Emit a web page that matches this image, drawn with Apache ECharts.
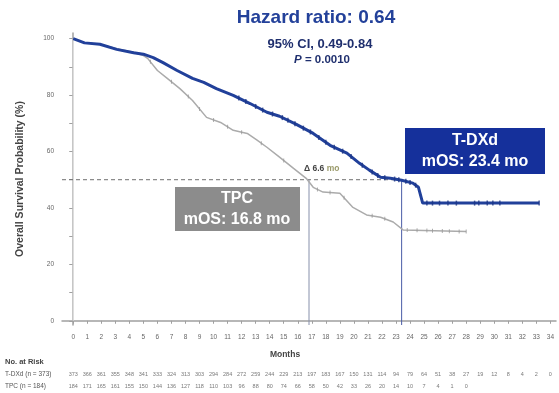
<!DOCTYPE html>
<html><head><meta charset="utf-8">
<script src="https://cdn.jsdelivr.net/npm/echarts@6/dist/echarts.min.js"></script>
<style>html,body{margin:0;padding:0;background:#fff}#c{width:559px;height:393px}</style>
</head><body><div id="c"></div>
<script>
// ---- data ----
const tdxdTime = [0,0.8,1.9,3.1,4.3,5.0,5.7,6.4,7.4,8.5,9.3,10.2,11.4,12.6,13.8,14.7,15.9,17.1,18.3,19.5,20.4,21.1,21.9,22.6,23.4,24.2,24.6,24.9,33.2];
const tdxdSurv = [100,98.5,98,96.2,95,94.5,93.3,91.5,88.7,85.9,84.5,82.3,79.9,77,73.9,72.5,69.6,66.4,62.2,59.4,55.8,53.4,50.9,50.5,49.8,48.8,47.3,41.7,41.7];
const tpcTime = [0,0.8,1.9,3.1,4.3,5.0,5.3,6.0,6.7,7.6,8.5,9.5,10.5,11.4,12.4,13.1,13.8,14.7,15.7,16.6,17.1,17.8,19.0,19.9,20.9,21.9,22.8,23.5,28.0];
const tpcSurv = [100,98.5,98,96.4,95.2,94,93,88.7,85.9,82.3,78.1,72.1,70.3,67.5,66.4,64,61.5,58,54,50.5,47.3,45.6,45.2,40.3,37.5,36.7,35,32.2,31.6];
const tdxdCensor = [11.8,12.3,13.0,13.5,14.2,14.9,15.3,15.8,16.4,16.9,17.5,18.0,18.6,19.2,19.8,20.6,21.3,21.7,22.2,22.9,23.2,23.7,24.0,24.4,25.2,25.6,26.1,26.7,27.3,28.6,28.9,29.5,29.9,30.4,33.2];
const tpcCensor = [5.5,7.0,8.2,9.0,10.0,11.0,12.0,13.4,15.0,17.4,18.3,19.3,21.3,22.2,23.8,24.5,25.2,25.6,26.3,26.8,27.5,28.0];
const medianTdxd = 23.4;
const medianTpc = 16.8;
const medianLevel = 50;
const monthTicks = [0,1,2,3,4,5,6,7,8,9,10,11,12,13,14,15,16,17,18,19,20,21,22,23,24,25,26,27,28,29,30,31,32,33,34];
const yLabelTicks = [0,20,40,60,80,100];
const yMinorTicks = [0,10,20,30,40,50,60,70,80,90,100];
const riskRows = ['T-DXd (n = 373)', 'TPC (n = 184)'];
const riskTdxd = [373,366,361,355,348,341,333,324,313,303,294,284,272,259,244,229,213,197,183,167,150,131,114,94,79,64,51,38,27,19,12,8,4,2,0];
const riskTpc = [184,171,165,161,155,150,144,136,127,118,110,103,96,88,80,74,66,58,50,42,33,26,20,14,10,7,4,1,0];

// ---- helpers ----
const zip = (a, b) => a.map((v, i) => [v, b[i]]);
function onCurve(t, ts, ss) {
  for (let i = 1; i < ts.length; i++) {
    if (t <= ts[i]) {
      const f = (t - ts[i-1]) / (ts[i] - ts[i-1]);
      return ss[i-1] + f * (ss[i] - ss[i-1]);
    }
  }
  return ss[ss.length-1];
}
const XMIN = -0.8, XMAX = 34.4, YMIN = -1.5, YMAX = 102;
const BLUE = '#21409a', GRAY = '#ababab';
const FONT = 'Liberation Sans, Arial, sans-serif';

const riskData = [];
riskTdxd.forEach((n, i) => riskData.push([monthTicks[i], 0, n]));
riskTpc.forEach((n, i) => riskData.push([monthTicks[i], 1, n]));

const chart = echarts.init(document.getElementById('c'), null, {renderer: 'canvas'});
chart.setOption({
  animation: false,
  textStyle: {fontFamily: FONT},
  grid: [
    {left: 62, right: 3, top: 33, bottom: 68},
    {left: 62, right: 3, top: 368, height: 24}
  ],
  xAxis: [
    {type: 'value', min: XMIN, max: XMAX, gridIndex: 0,
     axisLine: {lineStyle: {color: '#a0a0a0', width: 1.5}},
     axisTick: {customValues: monthTicks, length: 3, lineStyle: {color: '#a0a0a0'}},
     axisLabel: {customValues: monthTicks, fontSize: 6.5, color: '#666', margin: 9, fontFamily: FONT},
     splitLine: {show: false}},
    {type: 'value', min: XMIN, max: XMAX, gridIndex: 1, show: false}
  ],
  yAxis: [
    {type: 'value', min: YMIN, max: YMAX, gridIndex: 0,
     name: 'Overall Survival Probability (%)', nameLocation: 'middle', nameRotate: 90, nameGap: 36,
     nameTextStyle: {fontSize: 10.5, fontWeight: 'bold', color: '#444', fontFamily: FONT},
     axisLine: {show: true, lineStyle: {color: '#a0a0a0', width: 1.5}},
     axisTick: {show: true, customValues: yMinorTicks, length: 4, lineStyle: {color: '#a0a0a0'}},
     axisLabel: {customValues: yLabelTicks, fontSize: 6.5, color: '#666', margin: 8, fontFamily: FONT},
     splitLine: {show: false}},
    {type: 'category', gridIndex: 1, data: riskRows, inverse: true,
     axisLine: {show: false}, axisTick: {show: false}, splitLine: {show: false},
     axisLabel: {align: 'left', margin: 57, fontSize: 6.5, color: '#555', fontFamily: FONT}}
  ],
  series: [
    {type: 'line', name: 'ref0', data: [[0, 0], [0, 100]], symbol: 'none', silent: true,
     lineStyle: {color: '#ececec', width: 1}, z: 1},
    {type: 'line', name: 'median50', data: [[XMIN, medianLevel], [medianTdxd, medianLevel]], symbol: 'none',
     lineStyle: {color: '#6f6f6f', width: 1, type: [4, 3]}, z: 2},
    {type: 'line', name: 'medTpc', data: [[medianTpc, medianLevel], [medianTpc, YMIN]], symbol: 'none',
     lineStyle: {color: '#8790ab', width: 1}, z: 2},
    {type: 'line', name: 'medTdxd', data: [[medianTdxd, medianLevel], [medianTdxd, YMIN]], symbol: 'none',
     lineStyle: {color: '#4a5ca6', width: 1}, z: 2},
    {type: 'line', name: 'TPC', data: zip(tpcTime, tpcSurv), symbol: 'none',
     lineStyle: {color: GRAY, width: 1.5}, z: 3},
    {type: 'scatter', name: 'TPC censor', data: tpcCensor.map(t => [t, onCurve(t, tpcTime, tpcSurv)]),
     symbol: 'rect', symbolSize: [1, 4], itemStyle: {color: '#999'}, z: 4},
    {type: 'line', name: 'T-DXd', data: zip(tdxdTime, tdxdSurv), symbol: 'none',
     lineStyle: {color: BLUE, width: 3}, z: 5},
    {type: 'scatter', name: 'T-DXd censor', data: tdxdCensor.map(t => [t, onCurve(t, tdxdTime, tdxdSurv)]),
     symbol: 'rect', symbolSize: [1.5, 5], itemStyle: {color: '#1b3585'}, z: 6},
    {type: 'scatter', xAxisIndex: 1, yAxisIndex: 1, data: riskData, symbolSize: 0,
     label: {show: true, position: 'inside', formatter: p => String(p.value[2]), fontSize: 5.5, color: '#555', fontFamily: FONT}}
  ],
  graphic: [
    {type: 'text', x: 316, y: 18, style: {text: 'Hazard ratio: 0.64', fontSize: 19, fontWeight: 'bold', fill: '#23419a', align: 'center', verticalAlign: 'middle', fontFamily: FONT}},
    {type: 'text', x: 320, y: 44, style: {text: '95% CI, 0.49-0.84', fontSize: 13, fontWeight: 'bold', fill: '#1f2f6e', align: 'center', verticalAlign: 'middle', fontFamily: FONT}},
    {type: 'text', x: 322, y: 60, style: {rich: {i: {fontStyle: 'italic', fontWeight: 'bold', fontSize: 11.5, fill: '#1f2f6e', fontFamily: FONT}, n: {fontWeight: 'bold', fontSize: 11.5, fill: '#1f2f6e', fontFamily: FONT}}, text: '{i|P}{n| = 0.0010}', align: 'center', verticalAlign: 'middle'}},
    {type: 'rect', shape: {x: 405, y: 128, width: 140, height: 46}, style: {fill: '#15309b'}, z: 10},
    {type: 'text', x: 475, y: 141, z: 11, style: {text: 'T-DXd', fontSize: 16, fontWeight: 'bold', fill: '#fff', align: 'center', verticalAlign: 'middle', fontFamily: FONT}},
    {type: 'text', x: 475, y: 162, z: 11, style: {text: 'mOS: 23.4 mo', fontSize: 16, fontWeight: 'bold', fill: '#fff', align: 'center', verticalAlign: 'middle', fontFamily: FONT}},
    {type: 'rect', shape: {x: 175, y: 187, width: 125, height: 44}, style: {fill: '#8c8c8c'}, z: 10},
    {type: 'text', x: 237, y: 199, z: 11, style: {text: 'TPC', fontSize: 16, fontWeight: 'bold', fill: '#fff', align: 'center', verticalAlign: 'middle', fontFamily: FONT}},
    {type: 'text', x: 237, y: 220, z: 11, style: {text: 'mOS: 16.8 mo', fontSize: 16, fontWeight: 'bold', fill: '#fff', align: 'center', verticalAlign: 'middle', fontFamily: FONT}},
    {type: 'text', x: 304, y: 169, z: 11, style: {rich: {a: {fontSize: 8.5, fontWeight: 'bold', fill: '#444', fontFamily: FONT}, b: {fontSize: 8.5, fontWeight: 'bold', fill: '#9a9a6a', fontFamily: FONT}}, text: '{a|Δ 6.6 }{b|mo}', verticalAlign: 'middle'}},
    {type: 'text', x: 285, y: 355, style: {text: 'Months', fontSize: 8.5, fontWeight: 'bold', fill: '#444', align: 'center', verticalAlign: 'middle', fontFamily: FONT}},
    {type: 'text', x: 5, y: 362, style: {text: 'No. at Risk', fontSize: 7.5, fontWeight: 'bold', fill: '#444', verticalAlign: 'middle', fontFamily: FONT}}
  ]
});
</script></body></html>
